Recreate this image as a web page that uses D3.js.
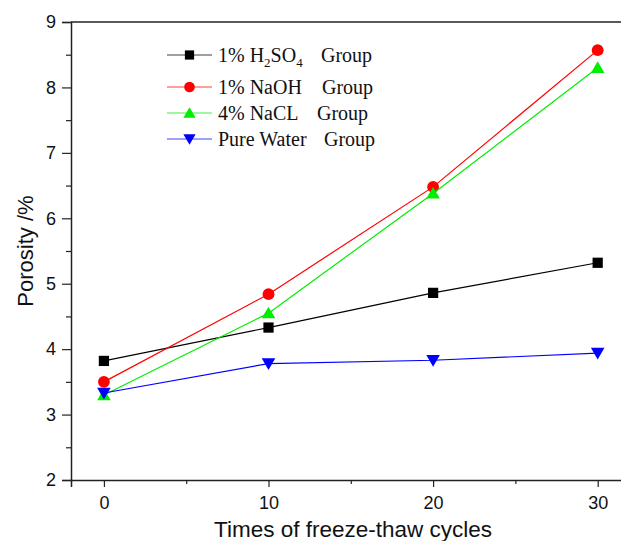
<!DOCTYPE html>
<html>
<head>
<meta charset="utf-8">
<script src="https://cdn.jsdelivr.net/npm/d3@7"></script>
<style>
    html, body { margin: 0; padding: 0; background: #fff; }
    svg { display: block; }
</style>
</head>
<body>
<svg id="chart" width="621" height="541"></svg>
<script>
/**
 * Porosity vs freeze-thaw cycles
 */
(function () {

    var cycles = [0, 10, 20, 30];
    var h2so4 = [3.82, 4.33, 4.86, 5.32];
    var naoh = [3.50, 4.84, 6.48, 8.57];
    var nacl = [3.30, 4.55, 6.38, 8.30];
    var water = [3.33, 3.78, 3.83, 3.94];

    var xTicks = [0, 10, 20, 30];
    var xMinorTicks = [5, 15, 25];
    var yTicks = [2, 3, 4, 5, 6, 7, 8, 9];
    var yMinorTicks = [2.5, 3.5, 4.5, 5.5, 6.5, 7.5, 8.5];

    var series = [
        { name: "1% H", sub: "2", name2: "SO", sub2: "4", group: 321, values: h2so4, color: "#000000", symbol: "square" },
        { name: "1% NaOH", group: 322, values: naoh, color: "#ff0000", symbol: "circle" },
        { name: "4% NaCL", group: 317, values: nacl, color: "#00ee00", symbol: "up" },
        { name: "Pure Water", group: 324, values: water, color: "#0000ff", symbol: "down" }
    ];

    var svg = d3.select("#chart");

    var x = d3.scaleLinear().domain([-2, 32]).range([71, 630.6]);
    var y = d3.scaleLinear().domain([2, 9]).range([480, 22]);

    var axisColor = "#222";
    var sans = "Arial, 'Liberation Sans', sans-serif";

    // top frame line (right side is cut off in the original)
    svg.append("line")
        .attr("x1", x(-2)).attr("x2", x(32))
        .attr("y1", y(9)).attr("y2", y(9))
        .attr("stroke", axisColor).attr("stroke-width", 1.5);

    // left axis
    svg.append("g")
        .attr("transform", "translate(" + x(-2) + ",0)")
        .call(d3.axisLeft(y).tickValues(yTicks).tickSize(9).tickPadding(6).tickFormat(d3.format("d")));
    svg.append("g")
        .attr("transform", "translate(" + x(-2) + ",0)")
        .call(d3.axisLeft(y).tickValues(yMinorTicks).tickSize(5).tickFormat(""))
        .select(".domain").remove();

    // bottom axis
    svg.append("g")
        .attr("transform", "translate(0," + y(2) + ")")
        .call(d3.axisBottom(x).tickValues(xTicks).tickSize(7).tickPadding(9).tickFormat(d3.format("d")));
    svg.append("g")
        .attr("transform", "translate(0," + y(2) + ")")
        .call(d3.axisBottom(x).tickValues(xMinorTicks).tickSize(4).tickFormat(""))
        .select(".domain").remove();

    svg.selectAll(".domain")
        .attr("stroke", axisColor).attr("stroke-width", 1.5);
    svg.selectAll(".tick line")
        .attr("stroke", axisColor).attr("stroke-width", 1.2);
    svg.selectAll(".tick text")
        .attr("fill", "#111")
        .style("font-family", sans)
        .style("font-size", "18px");

    // axis titles
    svg.append("text")
        .attr("x", 353).attr("y", 537)
        .attr("text-anchor", "middle")
        .style("font-family", sans)
        .style("font-size", "22.5px")
        .attr("fill", "#111")
        .text("Times of freeze-thaw cycles");

    svg.append("text")
        .attr("transform", "translate(33,251) rotate(-90)")
        .attr("text-anchor", "middle")
        .style("font-family", sans)
        .style("font-size", "22px")
        .attr("fill", "#111")
        .text("Porosity /%");

    function symbolPath(kind) {
        if (kind === "square") return d3.symbol().type(d3.symbolSquare).size(105)();
        if (kind === "circle") return d3.symbol().type(d3.symbolCircle).size(110)();
        if (kind === "up") return "M0,-6.5L6.8,5.2L-6.8,5.2Z";
        return "M0,6.5L6.8,-5.2L-6.8,-5.2Z";
    }

    var line = d3.line()
        .x(function (d) { return x(d[0]); })
        .y(function (d) { return y(d[1]); });

    series.forEach(function (s) {
        var pts = cycles.map(function (c, i) { return [c, s.values[i]]; });
        var g = svg.append("g");
        g.append("path")
            .datum(pts)
            .attr("d", line)
            .attr("fill", "none")
            .attr("stroke", s.color)
            .attr("stroke-width", 1.2);
        g.selectAll("path.mark")
            .data(pts)
            .enter().append("path")
            .attr("class", "mark")
            .attr("transform", function (d) { return "translate(" + x(d[0]) + "," + y(d[1]) + ")"; })
            .attr("d", symbolPath(s.symbol))
            .attr("fill", s.color);
    });

    // legend
    var legendY = [55, 87, 113, 139];
    var legend = svg.append("g")
        .style("font-family", "'Times New Roman', 'Liberation Serif', serif")
        .style("font-size", "20px")
        .attr("fill", "#111");

    series.forEach(function (s, i) {
        var ly = legendY[i];
        legend.append("line")
            .attr("x1", 167).attr("x2", 212)
            .attr("y1", ly).attr("y2", ly)
            .attr("stroke", s.color).attr("stroke-width", 1.2)
            .attr("opacity", 0.75);
        legend.append("path")
            .attr("transform", "translate(189.5," + ly + ") scale(0.9)")
            .attr("d", symbolPath(s.symbol))
            .attr("fill", s.color);
        var t = legend.append("text")
            .attr("x", 218).attr("y", ly + 7);
        t.append("tspan").text(s.name);
        if (s.sub) {
            t.append("tspan").attr("dy", 5).style("font-size", "13px").text(s.sub);
            t.append("tspan").attr("dy", -5).text(s.name2);
            t.append("tspan").attr("dy", 5).style("font-size", "13px").text(s.sub2);
        }
        legend.append("text")
            .attr("x", s.group).attr("y", ly + 7)
            .text("Group");
    });

})();
</script>
</body>
</html>
